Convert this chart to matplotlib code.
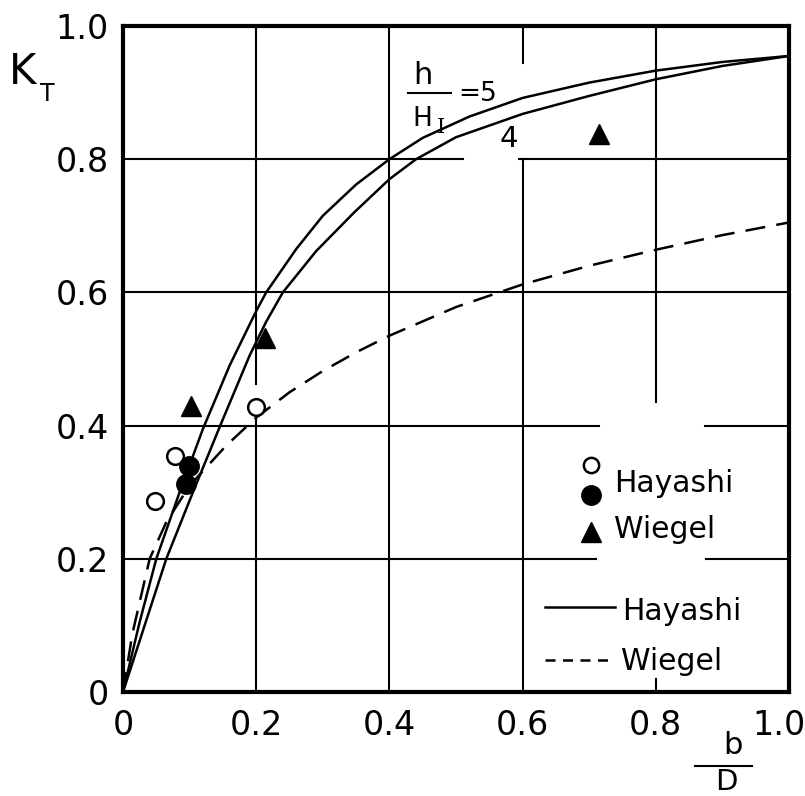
import numpy as np
import matplotlib.pyplot as plt
import matplotlib.transforms as mtransforms

# Hayashi theory, h/H_I = 5 (upper) and 4 (lower)
bd_h5 = [0, 0.025, 0.05, 0.085, 0.12, 0.16, 0.2, 0.215, 0.26, 0.3, 0.35, 0.4,
         0.45, 0.52, 0.6, 0.7, 0.8, 0.9, 1.0]
kt_h5 = [0, 0.105, 0.2, 0.3, 0.395, 0.49, 0.572, 0.6, 0.665, 0.715, 0.762, 0.8,
         0.832, 0.864, 0.892, 0.915, 0.933, 0.946, 0.955]
bd_h4 = [0, 0.065, 0.105, 0.146, 0.19, 0.215, 0.24, 0.29, 0.347, 0.4, 0.44,
         0.5, 0.6, 0.7, 0.8, 0.9, 1.0]
kt_h4 = [0, 0.2, 0.3, 0.4, 0.505, 0.556, 0.6, 0.662, 0.72, 0.77, 0.8,
         0.833, 0.868, 0.895, 0.92, 0.94, 0.955]

# Wiegel theory
bd_w = [0, 0.014, 0.04, 0.065, 0.1, 0.155, 0.2, 0.25, 0.3, 0.35, 0.4, 0.5,
        0.6, 0.7, 0.8, 0.9, 1.0]
kt_w = [0, 0.087, 0.2, 0.255, 0.31, 0.37, 0.412, 0.45, 0.482, 0.51, 0.535, 0.578,
        0.612, 0.64, 0.664, 0.686, 0.705]

# experiments
hay_open_x = [0.048, 0.078, 0.199]
hay_open_y = [0.287, 0.355, 0.428]
hay_fill_x = [0.099, 0.095]
hay_fill_y = [0.340, 0.313]
wie_x = [0.102, 0.213, 0.715]
wie_y = [0.430, 0.532, 0.838]

ticks = [0, 0.2, 0.4, 0.6, 0.8, 1.0]
tick_labels = ['0', '0.2', '0.4', '0.6', '0.8', '1.0']

fig = plt.figure(figsize=(8.05, 7.96), dpi=100)
ax = fig.add_axes([123 / 805, 1 - 692 / 796, 666 / 805, 666 / 796])
ax.set_xlim(0, 1)
ax.set_ylim(0, 1)

# grid drawn by hand, with the breaks of the original
vgrid = [(0.2, [(0, 0.41), (0.462, 1)]),
         (0.4, [(0, 1)]),
         (0.6, [(0, 0.8), (0.945, 1)]),
         (0.8, [(0, 0.02), (0.435, 1)])]
hgrid = [(0.2, [(0, 0.71), (0.876, 1)]),
         (0.4, [(0, 0.714), (0.874, 1)]),
         (0.6, [(0, 1)]),
         (0.8, [(0, 0.51), (0.595, 1)])]
for xv, segs in vgrid:
    for a, b in segs:
        ax.plot([xv, xv], [a, b], color='black', lw=1.5, zorder=1)
for yv, segs in hgrid:
    for a, b in segs:
        ax.plot([a, b], [yv, yv], color='black', lw=1.5, zorder=1)

ax.plot(bd_h5, kt_h5, color='black', lw=1.8, zorder=2, solid_joinstyle='round')
ax.plot(bd_h4, kt_h4, color='black', lw=1.8, zorder=2, solid_joinstyle='round')
ax.plot(bd_w, kt_w, color='black', lw=1.8, dashes=(8, 4.5), zorder=2)

ax.plot(hay_open_x, hay_open_y, 'o', ms=12, mfc='white', mec='black', mew=1.8, zorder=4)
ax.plot(hay_fill_x, hay_fill_y, 'o', ms=14, color='black', zorder=4)
ax.plot(wie_x, wie_y, '^', ms=15, color='black', zorder=4)

# curve labels
ax.text(0.45, 0.926, 'h', fontsize=22, ha='center', va='center')
ax.plot([0.428, 0.493], [0.899, 0.899], color='black', lw=1.5)
ax.text(0.45, 0.86, 'H', fontsize=19, ha='center', va='center')
ax.text(0.477, 0.848, 'I', fontsize=15, ha='center', va='center', family='DejaVu Serif')
ax.text(0.503, 0.898, '=5', fontsize=19, ha='left', va='center')
ax.text(0.58, 0.83, '4', fontsize=21, ha='center', va='center')

# legend
ax.plot(0.703, 0.341, 'o', ms=11, mfc='white', mec='black', mew=1.8, clip_on=False)
ax.plot(0.703, 0.296, 'o', ms=14, color='black', clip_on=False)
ax.plot(0.703, 0.240, '^', ms=15, color='black', clip_on=False)
ax.text(0.737, 0.300, 'Hayashi', fontsize=21.5, va='baseline')
ax.text(0.737, 0.231, 'Wiegel', fontsize=21.5, va='baseline')
ax.plot([0.634, 0.739], [0.128, 0.128], color='black', lw=1.8)
ax.text(0.75, 0.108, 'Hayashi', fontsize=21.5, va='baseline')
ax.plot([0.634, 0.736], [0.048, 0.048], color='black', lw=1.8, dashes=(4, 3))
ax.text(0.748, 0.033, 'Wiegel', fontsize=21.5, va='baseline')

ax.set_xticks(ticks)
ax.set_xticklabels(tick_labels)
ax.set_yticks(ticks)
ax.set_yticklabels(tick_labels)
ax.tick_params(length=0, labelsize=24)
ax.tick_params(axis='x', pad=12)
ax.tick_params(axis='y', pad=10)
last = ax.get_xticklabels()[-1]
last.set_transform(last.get_transform()
                   + mtransforms.ScaledTranslation(-0.1, 0, fig.dpi_scale_trans))
for s in ax.spines.values():
    s.set_linewidth(3)

# axis titles
fig.text(23 / 805, 1 - 72 / 796, 'K', fontsize=30, ha='center', va='center')
fig.text(47 / 805, 1 - 94 / 796, 'T', fontsize=17, ha='center', va='center')
fig.text(733 / 805, 1 - 745 / 796, 'b', fontsize=22, ha='center', va='center')
fig.add_artist(plt.Line2D([695 / 805, 752 / 805], [1 - 766 / 796, 1 - 766 / 796],
                          color='black', lw=1.5))
fig.text(726 / 805, 1 - 790 / 796, 'D', fontsize=21, ha='center', va='baseline')

fig.savefig('out.png', dpi=100)
